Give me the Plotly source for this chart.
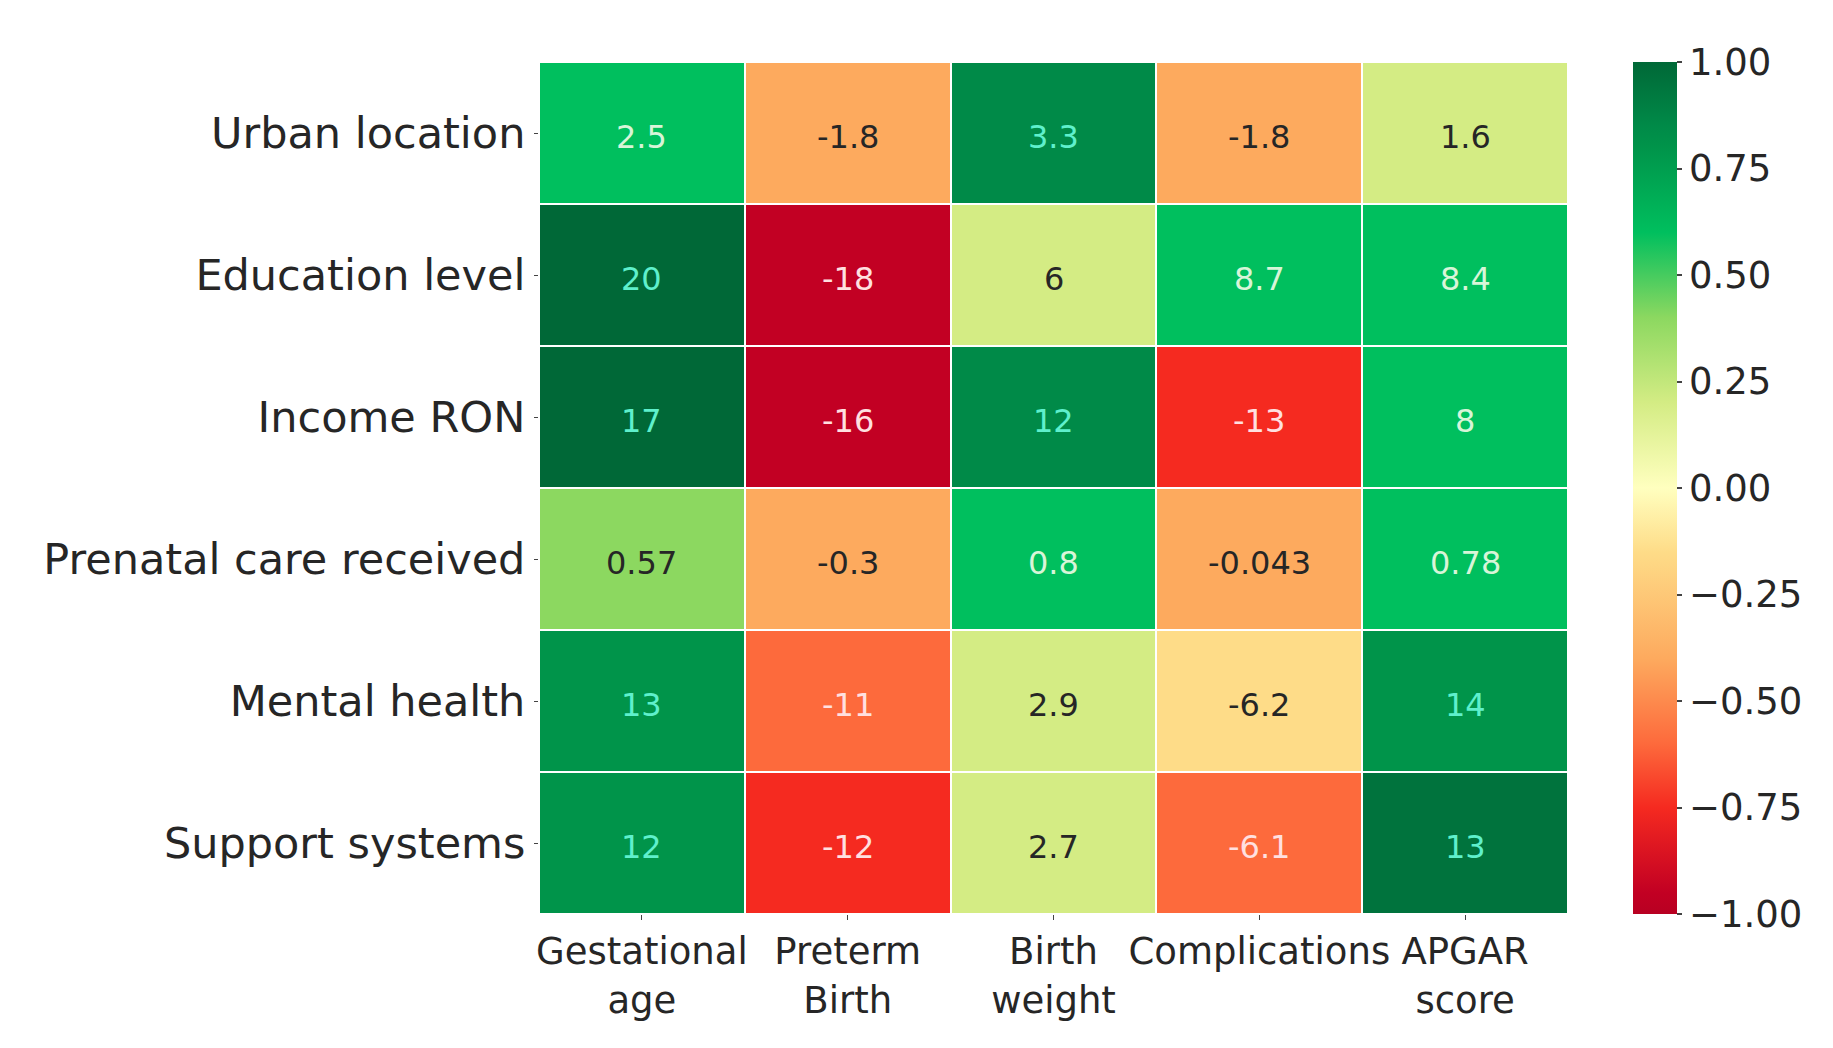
import plotly.graph_objects as go

# ---- data ----
row_labels = ["Urban location", "Education level", "Income RON",
              "Prenatal care received", "Mental health", "Support systems"]
col_labels = ["Gestational age", "Preterm Birth", "Birth weight",
              "Complications", "APGAR score"]
col_tick_text = ["Gestational<br>age", "Preterm<br>Birth", "Birth<br>weight",
                 "Complications", "APGAR<br>score"]

color_values = [
    [0.60, -0.40, 0.85, -0.40, 0.20],
    [1.00, -0.95, 0.20, 0.60, 0.60],
    [1.00, -0.95, 0.85, -0.75, 0.60],
    [0.40, -0.40, 0.60, -0.40, 0.60],
    [0.80, -0.60, 0.20, -0.15, 0.80],
    [0.80, -0.75, 0.20, -0.60, 0.95],
]
# annotation numbers printed in each cell
cell_labels = [
    ["2.5", "-1.8", "3.3", "-1.8", "1.6"],
    ["20", "-18", "6", "8.7", "8.4"],
    ["17", "-16", "12", "-13", "8"],
    ["0.57", "-0.3", "0.8", "-0.043", "0.78"],
    ["13", "-11", "2.9", "-6.2", "14"],
    ["12", "-12", "2.7", "-6.1", "13"],
]
cbar_ticks = [-1.0, -0.75, -0.5, -0.25, 0.0, 0.25, 0.5, 0.75, 1.0]

# ---- style ----
colorscale = [
    [0.000, "#b80022"],
    [0.025, "#c20023"],
    [0.125, "#f52a20"],
    [0.200, "#fd6a3c"],
    [0.300, "#fdaa5e"],
    [0.425, "#fedc88"],
    [0.500, "#ffffbf"],
    [0.600, "#d4ec84"],
    [0.700, "#8cd860"],
    [0.800, "#00bf5e"],
    [0.900, "#00944a"],
    [0.925, "#008a48"],
    [1.000, "#006837"],
]
FONT = "DejaVu Sans"
TXT = "#262626"


def text_color(v):
    if v >= 0.75:
        return "#5ff0cc"
    if v >= 0.5:
        return "#d8f5d8"
    if v <= -0.55:
        return "#ffe0e0"
    return TXT


fig = go.Figure(
    go.Heatmap(
        z=color_values,
        x=col_labels,
        y=row_labels,
        zmin=-1, zmax=1,
        colorscale=colorscale,
        xgap=2, ygap=2,
        hoverinfo="skip",
        colorbar=dict(
            thickness=44, thicknessmode="pixels",
            len=1, lenmode="fraction",
            x=1.063, xanchor="left", xpad=0,
            y=0.5, yanchor="middle", ypad=0,
            outlinewidth=0,
            ticks="outside", ticklen=5, tickwidth=1.5, tickcolor="#444",
            tickvals=cbar_ticks, tickformat=".2f",
            tickfont=dict(family=FONT, size=37, color=TXT),
        ),
    )
)

annotations = []
for i, r in enumerate(row_labels):
    for j, c in enumerate(col_labels):
        annotations.append(dict(
            x=c, y=r, xref="x", yref="y",
            text=cell_labels[i][j], showarrow=False,
            yshift=-4,
            font=dict(family=FONT, size=32, color=text_color(color_values[i][j])),
        ))

fig.update_layout(
    width=1817, height=1032,
    margin=dict(l=531, r=257, t=54, b=126, autoexpand=False),
    paper_bgcolor="white", plot_bgcolor="white",
    annotations=annotations,
    xaxis=dict(
        tickmode="array", tickvals=col_labels, ticktext=col_tick_text,
        ticks="outside", ticklen=5, tickcolor="#444",
        tickfont=dict(family=FONT, size=37, color=TXT),
        showgrid=False, zeroline=False, showline=False,
    ),
    yaxis=dict(
        autorange="reversed",
        ticks="outside", ticklen=4, tickcolor="#444",
        tickfont=dict(family=FONT, size=43, color=TXT),
        showgrid=False, zeroline=False, showline=False,
    ),
)

fig.write_html("out.html")
